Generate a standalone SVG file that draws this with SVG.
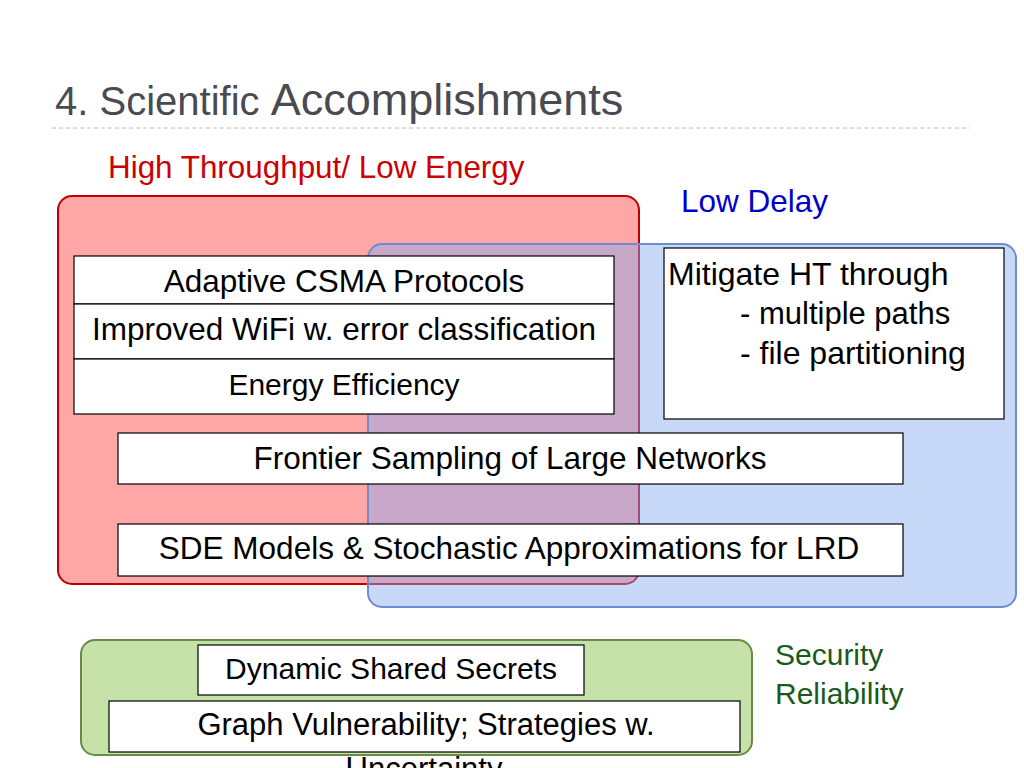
<svg xmlns="http://www.w3.org/2000/svg" width="1024" height="768" viewBox="0 0 1024 768">
<style>
text{font-family:"Liberation Sans",Arial,sans-serif}
.t{font-size:31.5px;fill:#000;text-anchor:middle}
.tl{font-size:31.5px;fill:#000}
.box{fill:#fff;stroke:#000;stroke-width:1.2}
</style>
<rect width="1024" height="768" fill="#fff"/>
<g id="title">
<text x="55" y="115" font-size="40" fill="#4a4a52">4. Scientific <tspan font-size="45">Accomplishments</tspan></text>
<line x1="52" y1="128" x2="970" y2="128" stroke="#b8bcc4" stroke-width="1" stroke-dasharray="4,3"/>
</g>
<g id="region-ht">
<rect x="58" y="196" width="581" height="388" rx="14" fill="#ff0000" fill-opacity="0.35" stroke="#c00000" stroke-width="2"/>
<text x="108" y="178" font-size="31.4" fill="#cc0000">High Throughput/ Low Energy</text>
</g>
<g id="region-delay">
<rect x="368" y="244" width="648" height="363" rx="14" fill="#87aaf0" fill-opacity="0.46" stroke="#6e8cd0" stroke-width="2"/>
<text x="681" y="212" font-size="31.5" fill="#0000cc">Low Delay</text>
</g>
<g id="region-security">
<rect x="81" y="640" width="671" height="115" rx="14" fill="#c6e2a8" stroke="#6a8a4a" stroke-width="2"/>
<text x="775" y="665" font-size="30" fill="#1a5a1a">Security</text>
<text x="775" y="704" font-size="30" fill="#1a5a1a">Reliability</text>
</g>
<g id="connectors"></g>
<g id="n-csma"><rect class="box" x="74" y="256" width="540" height="48"/><text class="t" x="344" y="292">Adaptive CSMA Protocols</text></g>
<g id="n-wifi"><rect class="box" x="74" y="304" width="540" height="55"/><text class="t" x="344" y="340" font-size="32">Improved WiFi w. error classification</text></g>
<g id="n-energy"><rect class="box" x="74" y="359" width="540" height="55"/><text class="t" x="344" y="395" style="font-size:30px">Energy Efficiency</text></g>
<g id="n-mitigate"><rect class="box" x="664" y="248" width="340" height="171"/>
<text class="tl" x="668" y="285" style="font-size:32px">Mitigate HT through</text>
<text class="tl" x="740" y="324" style="font-size:31px">- multiple paths</text>
<text class="tl" x="740" y="364" style="font-size:32px">- file partitioning</text></g>
<g id="n-frontier"><rect class="box" x="118" y="433" width="785" height="51"/><text class="t" x="510" y="469">Frontier Sampling of Large Networks</text></g>
<g id="n-sde"><rect class="box" x="118" y="524" width="785" height="52"/><text class="t" x="509" y="559">SDE Models &amp; Stochastic Approximations for LRD</text></g>
<g id="n-secrets"><rect class="box" x="198" y="645" width="386" height="50"/><text class="t" x="391" y="679" style="font-size:30px">Dynamic Shared Secrets</text></g>
<g id="n-graph"><rect class="box" x="109" y="701" width="631" height="51"/><text class="t" x="426" y="735" style="font-size:31px">Graph Vulnerability; Strategies w.</text><text class="t" x="424" y="779" style="font-size:31px">Uncertainty</text></g>
</svg>
